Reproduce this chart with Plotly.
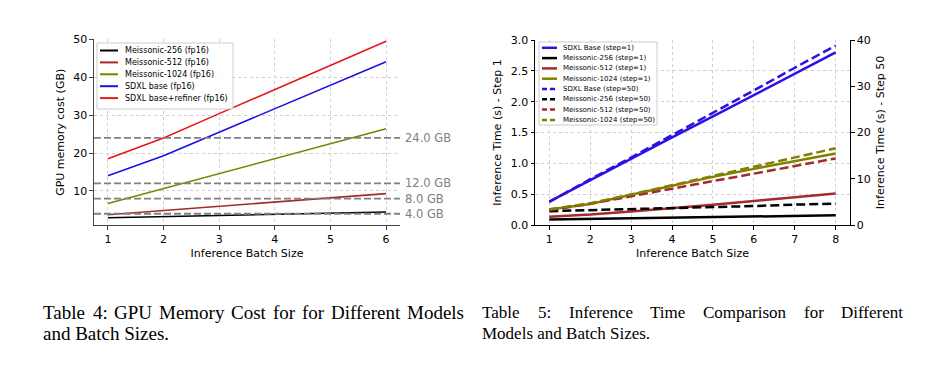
import plotly.graph_objects as go

# page body has an 8px margin, so the figure is offset by 8px
OFF = 8
W, H = 930 - OFF, 376 - OFF

# ---------------- Table 4 data: GPU memory cost ----------------
batch_mem = [1, 2, 3, 4, 5, 6]
mem_names = ["Meissonic-256 (fp16)", "Meissonic-512 (fp16)", "Meissonic-1024 (fp16)",
             "SDXL base (fp16)", "SDXL base+refiner (fp16)"]
mem_m256 = [2.95, 3.25, 3.55, 3.85, 4.15, 4.45]
mem_m512 = [3.75, 4.85, 5.95, 7.1, 8.2, 9.3]
mem_m1024 = [6.7, 10.6, 14.6, 18.6, 22.5, 26.4]
mem_sdxl = [14.0, 19.3, 25.5, 31.7, 37.9, 44.1]
mem_sdxl_ref = [18.5, 24.0, 30.4, 36.8, 43.1, 49.5]
mem_colors = ["#000000", "#a52a2a", "#808000", "#1a10e0", "#e8161b"]
mem_limits = [24.0, 12.0, 8.0, 4.0]
mem_limit_labels = ["24.0 GB", "12.0 GB", "8.0 GB", "4.0 GB"]

# ---------------- Table 5 data: inference time ----------------
batch_time = [1, 2, 3, 4, 5, 6, 7, 8]
time_names_s1 = ["SDXL Base (step=1)", "Meissonic-256 (step=1)", "Meissonic-512 (step=1)", "Meissonic-1024 (step=1)"]
time_names_s50 = ["SDXL Base (step=50)", "Meissonic-256 (step=50)", "Meissonic-512 (step=50)", "Meissonic-1024 (step=50)"]
sdxl_s1 = [0.38, 0.73, 1.07, 1.42, 1.76, 2.11, 2.45, 2.80]
m256_s1 = [0.09, 0.10, 0.11, 0.12, 0.13, 0.14, 0.15, 0.157]
m512_s1 = [0.135, 0.17, 0.22, 0.27, 0.33, 0.39, 0.45, 0.51]
m1024_s1 = [0.25, 0.34, 0.49, 0.64, 0.78, 0.91, 1.04, 1.16]
sdxl_s50 = [5.0, 9.9, 14.6, 19.4, 24.3, 29.1, 34.0, 38.8]
m256_s50 = [3.0, 3.2, 3.4, 3.6, 3.9, 4.1, 4.4, 4.6]
m512_s50 = [3.2, 4.6, 6.2, 7.9, 9.5, 11.1, 12.8, 14.4]
m1024_s50 = [3.4, 4.7, 6.6, 8.6, 10.5, 12.5, 14.5, 16.6]
time_colors = ["#2a10e8", "#000000", "#a52a2a", "#808000"]

# ---------------- captions ----------------
cap4_line1 = "Table 4: GPU Memory Cost for for Different Models"
cap4_line2 = "and Batch Sizes."
cap5_line1 = "Table 5: Inference Time Comparison for Different"
cap5_line2 = "Models and Batch Sizes."

FONT = "DejaVu Sans"
SERIF = "Liberation Serif"


def px(x):
    return (x - OFF) / W


def py(y):
    return 1 - (y - OFF) / H


fig = go.Figure()

# ---- left chart lines
for name, vals, col in zip(mem_names, [mem_m256, mem_m512, mem_m1024, mem_sdxl, mem_sdxl_ref], mem_colors):
    fig.add_trace(go.Scatter(x=batch_mem, y=vals, mode="lines", name=name,
                             line=dict(color=col, width=1.6), xaxis="x", yaxis="y", showlegend=False))

# ---- right chart lines (step 1 on y2, step 50 on y3)
for name, vals, col in zip(time_names_s1, [sdxl_s1, m256_s1, m512_s1, m1024_s1], time_colors):
    fig.add_trace(go.Scatter(x=batch_time, y=vals, mode="lines", name=name,
                             line=dict(color=col, width=2.5), xaxis="x2", yaxis="y2", showlegend=False))
for name, vals, col in zip(time_names_s50, [sdxl_s50, m256_s50, m512_s50, m1024_s50], time_colors):
    fig.add_trace(go.Scatter(x=batch_time, y=vals, mode="lines", name=name,
                             line=dict(color=col, width=2.5, dash="9px,4px"), xaxis="x2", yaxis="y3", showlegend=False))

shapes = []
annotations = []

# ---- horizontal memory limits
for v, lab in zip(mem_limits, mem_limit_labels):
    shapes.append(dict(type="line", xref="x domain", yref="y", x0=0, x1=1, y0=v, y1=v,
                       line=dict(color="#808080", width=1.8, dash="7px,3px"), layer="above"))
    annotations.append(dict(xref="x domain", yref="y", x=1.01, y=v, text=lab, showarrow=False,
                            xanchor="left", yanchor="middle", font=dict(family=FONT, size=11.5, color="#808080")))


# ---- manual compact legends (matplotlib style)
def add_legend(box, names, colors, dashes, row_y0, row_dy, hx0, hx1, tx, fsize, lw):
    x0, y0, x1, y1 = box
    shapes.append(dict(type="rect", xref="paper", yref="paper", x0=px(x0), x1=px(x1), y0=py(y0), y1=py(y1),
                       fillcolor="rgba(255,255,255,0.85)", line=dict(color="#cccccc", width=1), layer="above"))
    for i, (n, c, d) in enumerate(zip(names, colors, dashes)):
        yy = row_y0 + i * row_dy
        shapes.append(dict(type="line", xref="paper", yref="paper", x0=px(hx0), x1=px(hx1), y0=py(yy), y1=py(yy),
                           line=dict(color=c, width=lw, dash=d), layer="above"))
        annotations.append(dict(xref="paper", yref="paper", x=px(tx), y=py(yy), text=n, showarrow=False,
                                xanchor="left", yanchor="middle", font=dict(family=FONT, size=fsize, color="#000")))


add_legend((97, 43, 233, 109), mem_names, mem_colors, ["solid"] * 5, 50.5, 11.9, 100, 118, 123, 8, 2)
add_legend((539, 42, 657, 125), time_names_s1 + time_names_s50, time_colors + time_colors,
           ["solid"] * 4 + ["5px,3px"] * 4, 47.8, 10.3, 542, 557, 561, 7, 2.5)

# ---- captions (justified first lines, Times metrics)
TIMES = {" ": 250, ":": 278, ".": 250, "A": 722, "B": 667, "C": 667, "D": 722, "G": 722, "I": 333,
         "M": 889, "P": 556, "S": 556, "T": 611, "U": 722, "a": 444, "b": 500, "c": 444, "d": 500,
         "e": 444, "f": 333, "h": 500, "i": 278, "l": 278, "m": 778, "n": 500, "o": 500, "p": 500,
         "r": 333, "s": 389, "t": 278, "y": 500, "z": 444}


def tw(s, size):
    return sum(TIMES.get(ch, 500) for ch in s) * size / 1000.0


def justified(text, x0, x1, yc, size):
    words = text.split(" ")
    widths = [tw(w, size) for w in words]
    gap = (x1 - x0 - sum(widths)) / (len(words) - 1)
    x = x0
    for w, wd in zip(words, widths):
        annotations.append(dict(xref="paper", yref="paper", x=px(x), y=py(yc), text=w,
                                showarrow=False, xanchor="left", yanchor="middle",
                                font=dict(family=SERIF, size=size, color="#000")))
        x += wd + gap


def plain(text, x0, yc, size):
    annotations.append(dict(xref="paper", yref="paper", x=px(x0), y=py(yc), text=text, showarrow=False,
                            xanchor="left", yanchor="middle", font=dict(family=SERIF, size=size, color="#000")))


justified(cap4_line1, 41, 462, 312, 19)
plain(cap4_line2, 41, 333.5, 19)
justified(cap5_line1, 480, 901, 312, 17)
plain(cap5_line2, 480, 333.5, 17)

axfont = dict(family=FONT, size=11, color="#000")
grid = dict(showgrid=True, gridcolor="#cfcfcf", griddash="dot", gridwidth=0.8, zeroline=False)
ticks = dict(ticks="outside", ticklen=3.5, tickwidth=1, tickfont=axfont, automargin=False)

ytop, ybot = 39.3, 225.3
fig.update_layout(
    width=W, height=H, margin=dict(l=0, r=0, t=0, b=0, autoexpand=False),
    paper_bgcolor="white", plot_bgcolor="white", showlegend=False,
    font=dict(family=FONT, size=11, color="#000"),
    xaxis=dict(domain=[px(94), px(400)], range=[0.75, 6.25], dtick=1, anchor="y",
               showline=True, linecolor="#444", linewidth=1.2, tickcolor="#444",
               title=dict(text="Inference Batch Size", font=axfont, standoff=4), **grid, **ticks),
    yaxis=dict(domain=[py(ybot), py(ytop)], range=[0.95, 50], dtick=10, anchor="x",
               showline=True, linecolor="#444", linewidth=1.2, tickcolor="#444",
               title=dict(text="GPU memory cost (GB)", font=axfont, standoff=6), **grid, **ticks),
    xaxis2=dict(domain=[px(535), px(850)], range=[0.65, 8.35], dtick=1, anchor="y2",
                showline=True, linecolor="#000", linewidth=1, tickcolor="#000",
                title=dict(text="Inference Batch Size", font=axfont, standoff=4), **grid, **ticks),
    yaxis2=dict(domain=[py(225), py(40)], range=[0, 3], dtick=0.5, tickformat=".1f", anchor="x2",
                showline=True, linecolor="#000", linewidth=1, tickcolor="#000",
                title=dict(text="Inference Time (s) - Step 1", font=axfont, standoff=6), **grid, **ticks),
    yaxis3=dict(range=[0, 40], dtick=10, overlaying="y2", side="right", anchor="x2",
                showline=True, linecolor="#000", linewidth=1, tickcolor="#000", showgrid=False, zeroline=False,
                title=dict(text="Inference Time (s) - Step 50", font=axfont, standoff=6), **ticks),
    shapes=shapes, annotations=annotations,
)

fig.write_html("out.html")
